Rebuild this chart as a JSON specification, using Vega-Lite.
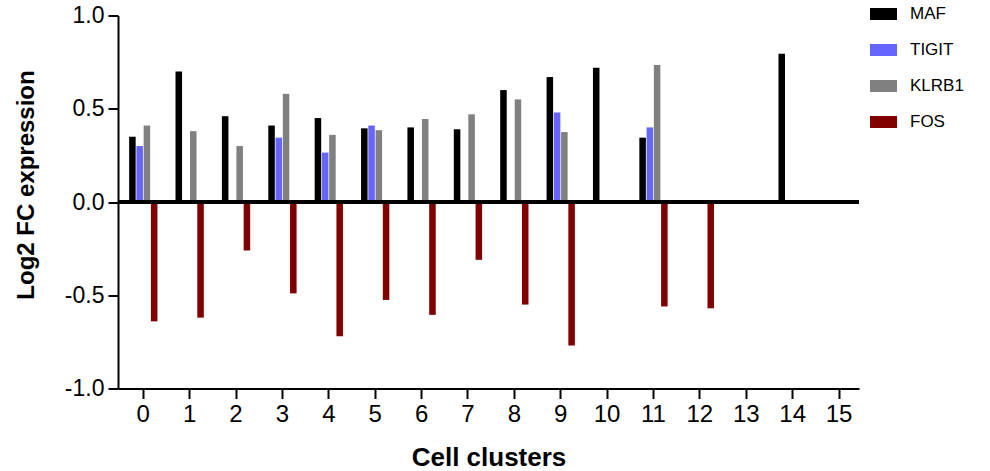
{
  "$schema": "https://vega.github.io/schema/vega-lite/v6.json",
  "width": 741,
  "height": 373,
  "autosize": {"type": "none"},
  "padding": {"left": 118, "top": 15.5, "right": 131, "bottom": 82.5},
  "background": "white",
  "config": {"view": {"stroke": null}, "font": "Liberation Sans"},
  "data": {
    "values": [
      {"cluster": 0, "gene": "MAF", "value": 0.35},
      {"cluster": 0, "gene": "TIGIT", "value": 0.30},
      {"cluster": 0, "gene": "KLRB1", "value": 0.41},
      {"cluster": 0, "gene": "FOS", "value": -0.64},
      {"cluster": 1, "gene": "MAF", "value": 0.70},
      {"cluster": 1, "gene": "KLRB1", "value": 0.38},
      {"cluster": 1, "gene": "FOS", "value": -0.62},
      {"cluster": 2, "gene": "MAF", "value": 0.46},
      {"cluster": 2, "gene": "KLRB1", "value": 0.30},
      {"cluster": 2, "gene": "FOS", "value": -0.26},
      {"cluster": 3, "gene": "MAF", "value": 0.41},
      {"cluster": 3, "gene": "TIGIT", "value": 0.345},
      {"cluster": 3, "gene": "KLRB1", "value": 0.58},
      {"cluster": 3, "gene": "FOS", "value": -0.49},
      {"cluster": 4, "gene": "MAF", "value": 0.45},
      {"cluster": 4, "gene": "TIGIT", "value": 0.265},
      {"cluster": 4, "gene": "KLRB1", "value": 0.36},
      {"cluster": 4, "gene": "FOS", "value": -0.72},
      {"cluster": 5, "gene": "MAF", "value": 0.395},
      {"cluster": 5, "gene": "TIGIT", "value": 0.41},
      {"cluster": 5, "gene": "KLRB1", "value": 0.385},
      {"cluster": 5, "gene": "FOS", "value": -0.525},
      {"cluster": 6, "gene": "MAF", "value": 0.40},
      {"cluster": 6, "gene": "KLRB1", "value": 0.445},
      {"cluster": 6, "gene": "FOS", "value": -0.605},
      {"cluster": 7, "gene": "MAF", "value": 0.39},
      {"cluster": 7, "gene": "KLRB1", "value": 0.47},
      {"cluster": 7, "gene": "FOS", "value": -0.31},
      {"cluster": 8, "gene": "MAF", "value": 0.60},
      {"cluster": 8, "gene": "KLRB1", "value": 0.55},
      {"cluster": 8, "gene": "FOS", "value": -0.55},
      {"cluster": 9, "gene": "MAF", "value": 0.67},
      {"cluster": 9, "gene": "TIGIT", "value": 0.48},
      {"cluster": 9, "gene": "KLRB1", "value": 0.375},
      {"cluster": 9, "gene": "FOS", "value": -0.77},
      {"cluster": 10, "gene": "MAF", "value": 0.72},
      {"cluster": 11, "gene": "MAF", "value": 0.345},
      {"cluster": 11, "gene": "TIGIT", "value": 0.40},
      {"cluster": 11, "gene": "KLRB1", "value": 0.735},
      {"cluster": 11, "gene": "FOS", "value": -0.56},
      {"cluster": 12, "gene": "FOS", "value": -0.57},
      {"cluster": 14, "gene": "MAF", "value": 0.795}
    ]
  },
  "layer": [
    {
      "mark": {"type": "bar"},
      "encoding": {
        "x": {
          "field": "cluster",
          "type": "ordinal",
          "title": "Cell clusters",
          "scale": {
            "domain": [0, 1, 2, 3, 4, 5, 6, 7, 8, 9, 10, 11, 12, 13, 14, 15],
            "paddingInner": 0.39,
            "paddingOuter": 0.183,
            "align": 0.656
          },
          "axis": {
            "labelAngle": 0,
            "labelFontSize": 24,
            "labelFont": "Liberation Sans",
            "labelColor": "black",
            "labelPadding": 4,
            "tickColor": "black",
            "tickSize": 10,
            "tickWidth": 2,
            "domainColor": "black",
            "domainWidth": 2,
            "grid": false,
            "titleFont": "Liberation Sans",
            "titleFontSize": 26,
            "titleFontWeight": "bold",
            "titleColor": "black",
            "titleY": 76.5,
            "titleBaseline": "alphabetic"
          }
        },
        "xOffset": {
          "field": "gene",
          "type": "nominal",
          "scale": {"domain": ["MAF", "TIGIT", "KLRB1", "FOS"], "paddingInner": 0.1, "paddingOuter": 0}
        },
        "y": {
          "field": "value",
          "type": "quantitative",
          "title": "Log2 FC expression",
          "scale": {"domain": [-1, 1], "nice": false},
          "axis": {
            "values": [-1, -0.5, 0, 0.5, 1],
            "labelExpr": "replace(format(datum.value, '.1f'), '−', '-')",
            "labelFontSize": 23,
            "labelFont": "Liberation Sans",
            "labelColor": "black",
            "labelPadding": 4,
            "tickColor": "black",
            "tickSize": 10,
            "tickWidth": 2,
            "domainColor": "black",
            "domainWidth": 2,
            "grid": false,
            "titleFont": "Liberation Sans",
            "titleFontSize": 24,
            "titleFontWeight": "bold",
            "titleColor": "black",
            "titleX": -80,
            "titleY": 169
          }
        },
        "color": {
          "field": "gene",
          "type": "nominal",
          "scale": {"domain": ["MAF", "TIGIT", "KLRB1", "FOS"], "range": ["#000000", "#6666ff", "#808080", "#800000"]},
          "legend": {
            "title": null,
            "orient": "none",
            "legendX": 752,
            "legendY": -15,
            "symbolType": "M-1,-0.444L1,-0.444L1,0.444L-1,0.444Z",
            "symbolSize": 729,
            "symbolStrokeWidth": 0,
            "symbolOpacity": 1,
            "labelFontSize": 17,
            "labelFont": "Liberation Sans",
            "labelColor": "black",
            "labelOffset": 13,
            "rowPadding": 14
          }
        }
      }
    },
    {
      "mark": {"type": "rule", "color": "black", "strokeWidth": 3},
      "encoding": {"y": {"datum": 0}}
    }
  ]
}
